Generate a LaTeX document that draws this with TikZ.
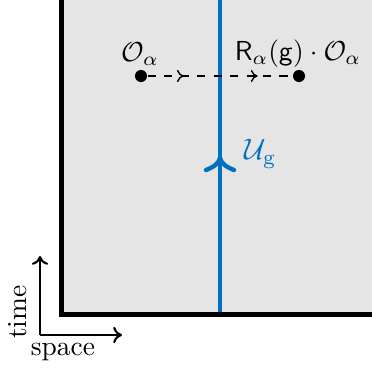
\documentclass[tikz,border=0pt]{standalone}
\usepackage{amsmath}
\usetikzlibrary{arrows.meta,decorations.markings}
\definecolor{lineblue}{RGB}{0,112,192}
\definecolor{boxgray}{RGB}{229,229,229}
\begin{document}
\begin{tikzpicture}[x=0.364pt,y=-0.364pt,
  dot/.style={circle,fill=black,inner sep=0pt,minimum size=4.4pt},
  lbl/.style={inner sep=1pt},
  axisarrow/.style={line width=0.75pt,-{Computer Modern Rightarrow[length=3.2pt,width=6pt]}},
  wilson/.style={line width=1.6pt,draw=lineblue},
  dashconn/.style={dashed,line width=0.4pt,
    postaction={decorate},
    decoration={markings,
      mark=at position 0.25 with {\arrow[line width=0.5pt]{Computer Modern Rightarrow[length=2.5pt,width=4.4pt]}},
      mark=at position 0.76 with {\arrow[line width=0.5pt]{Computer Modern Rightarrow[length=2.5pt,width=4.4pt]}}}}]
\useasboundingbox (0,0) rectangle (372,370);
% region
\fill[boxgray] (62,0) rectangle (372,314);
\draw[line width=1.8pt,line join=miter] (61.5,0) -- (61.5,314.5) -- (372,314.5);
% Wilson line
\coordinate (top) at (220,0);
\coordinate (bot) at (220,312);
\draw[wilson] (top) -- (bot);
\draw[wilson,line cap=round,line join=round] (206,170) .. controls (214,167) and (219,163) .. (220,158) .. controls (221,163) and (226,167) .. (234,170);
\node[lbl,text=lineblue,anchor=west,scale=1.08] (U) at (241,154) {$\mathcal{U}_{\mathrm{g}}$};
% operators
\node[dot] (p1) at (141,76) {};
\node[dot] (p2) at (299,76) {};
\draw[dashconn] (p1) -- (p2);
\node[lbl] (O1) at (140,54) {$\mathcal{O}_\alpha$};
\node[lbl] (O2) at (298,54) {$\mathsf{R}_\alpha(\mathsf{g})\cdot\mathcal{O}_\alpha$};
% axes
\coordinate (orig) at (40,335);
\coordinate (tup) at (40,256);
\coordinate (sright) at (122,335);
\draw[axisarrow] (orig) -- (tup);
\draw[axisarrow] (orig) -- (sright);
\node[lbl,rotate=90] (time) at (18,312) {time};
\node[lbl] (space) at (63,352) {space};
\end{tikzpicture}
\end{document}
